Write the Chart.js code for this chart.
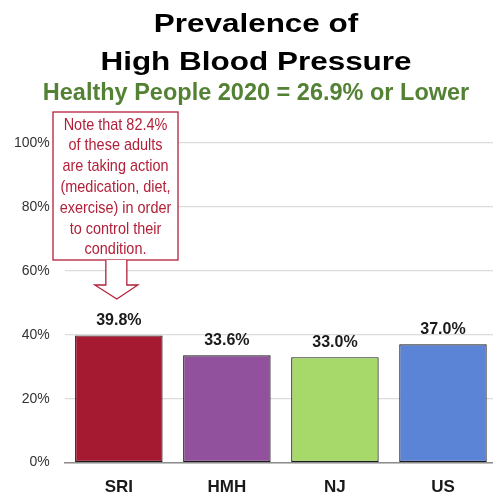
<!DOCTYPE html>
<html>
<head>
<meta charset="utf-8">
<script src="https://cdn.jsdelivr.net/npm/chart.js@4"></script>
<style>
  html, body { margin: 0; padding: 0; background: #fff; overflow: hidden; }
  #wrap { position: relative; width: 512px; height: 498px; }
</style>
</head>
<body>
<div id="wrap"><canvas id="bpChart"></canvas></div>
<script>
// data
const categories = ['SRI', 'HMH', 'NJ', 'US'];
const prevalence = [39.8, 33.6, 33.0, 37.0];
const yTickValues = [0, 20, 40, 60, 80, 100];
const titleLines = ['Prevalence of', 'High Blood Pressure'];
const subtitleText = 'Healthy People 2020 = 26.9% or Lower';
const noteLines = ['Note that 82.4%', 'of these adults', 'are taking action', '(medication, diet,', 'exercise) in order', 'to control their', 'condition.'];

const barColors = ['#a51a30', '#92519c', '#a7d86a', '#5b84d6'];
const noteColor = '#b3203a';
const sans = '"Liberation Sans", Arial, sans-serif';

// draw text squeezed/stretched horizontally around its centre x
function drawScaledText(ctx, text, x, y, sx) {
  ctx.save();
  ctx.translate(x, y);
  ctx.scale(sx, 1);
  ctx.fillText(text, 0, 0);
  ctx.restore();
}

// heading (title + green target line)
const heading = {
  id: 'heading',
  afterDraw(chart) {
    const ctx = chart.ctx;
    const cx = chart.width / 2;
    ctx.save();
    ctx.textAlign = 'center';
    ctx.textBaseline = 'alphabetic';
    ctx.fillStyle = '#000';
    ctx.font = 'bold 26px ' + sans;
    drawScaledText(ctx, titleLines[0], cx, 31.5, 1.21);
    drawScaledText(ctx, titleLines[1], cx, 70, 1.21);
    ctx.fillStyle = '#548235';
    ctx.font = 'bold 23.5px ' + sans;
    drawScaledText(ctx, subtitleText, cx, 100, 1);
    ctx.restore();
  }
};

// value labels above each bar
const valueLabels = {
  id: 'valueLabels',
  afterDatasetsDraw(chart) {
    const ctx = chart.ctx;
    const meta = chart.getDatasetMeta(0);
    ctx.save();
    ctx.font = 'bold 16px ' + sans;
    ctx.fillStyle = '#1a1a1a';
    ctx.textAlign = 'center';
    ctx.textBaseline = 'alphabetic';
    meta.data.forEach((bar, i) => {
      ctx.fillText(prevalence[i].toFixed(1) + '%', bar.x, bar.y - 10);
    });
    ctx.restore();
  }
};

// callout box with down arrow pointing at the first bar
const noteCallout = {
  id: 'noteCallout',
  afterDraw(chart) {
    const ctx = chart.ctx;
    const cx = chart.getDatasetMeta(0).data[0].x - 2;
    const box = { l: 53, t: 112, r: 178, b: 260 };
    ctx.save();
    ctx.fillStyle = '#fff';
    ctx.strokeStyle = noteColor;
    ctx.lineWidth = 1.3;
    ctx.fillRect(box.l, box.t, box.r - box.l, box.b - box.t);
    ctx.strokeRect(box.l, box.t, box.r - box.l, box.b - box.t);

    // arrow outline
    ctx.beginPath();
    ctx.moveTo(cx - 11, box.b);
    ctx.lineTo(cx - 11, 285);
    ctx.lineTo(cx - 22, 285);
    ctx.lineTo(cx, 299);
    ctx.lineTo(cx + 21, 285);
    ctx.lineTo(cx + 10, 285);
    ctx.lineTo(cx + 10, box.b);
    ctx.fillStyle = '#fff';
    ctx.fill();
    ctx.stroke();

    ctx.fillStyle = noteColor;
    ctx.font = '17px ' + sans;
    ctx.textAlign = 'center';
    ctx.textBaseline = 'middle';
    noteLines.forEach((line, i) => {
      drawScaledText(ctx, line, (box.l + box.r) / 2, 125 + i * 20.8, 0.85);
    });
    ctx.restore();
  }
};

new Chart(document.getElementById('bpChart'), {
  type: 'bar',
  data: {
    labels: categories,
    datasets: [{
      data: prevalence,
      backgroundColor: barColors,
      borderColor: '#1a1a1a',
      borderWidth: 1.2,
      borderSkipped: false,
      barPercentage: 0.81,
      categoryPercentage: 1
    }]
  },
  options: {
    responsive: true,
    maintainAspectRatio: false,
    animation: false,
    layout: { padding: { left: -1, right: 15, top: 143, bottom: -15 } },
    plugins: {
      legend: { display: false },
      tooltip: { enabled: false },
      title: { display: false }
    },
    scales: {
      x: {
        grid: { display: false, drawTicks: false },
        border: { display: true, color: '#8c8c8c', width: 1.5 },
        ticks: {
          color: '#1a1a1a',
          padding: 15,
          font: { family: sans, size: 17, weight: 'bold' }
        }
      },
      y: {
        min: 0,
        max: 100,
        afterBuildTicks(scale) {
          scale.ticks = yTickValues.map(v => ({ value: v }));
        },
        grid: { color: '#dcdcdc', lineWidth: 1.3, drawTicks: false },
        border: { display: false },
        ticks: {
          color: '#333',
          padding: 15,
          font: { family: sans, size: 14 },
          callback: v => v + '%'
        }
      }
    }
  },
  plugins: [heading, valueLabels, noteCallout]
});
</script>
</body>
</html>
